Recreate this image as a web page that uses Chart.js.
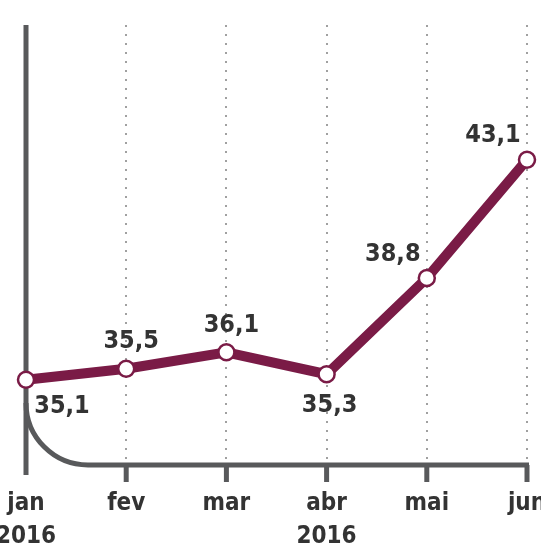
<!DOCTYPE html>
<html>
<head>
<meta charset="utf-8">
<style>
  html, body { margin: 0; padding: 0; background: #fff; }
  #wrap { width: 541px; height: 546px; }
</style>
</head>
<body>
<div id="wrap"><canvas id="chart" width="541" height="546"></canvas></div>
<script src="https://cdn.jsdelivr.net/npm/chart.js"></script>
<script>
const months = ['jan', 'fev', 'mar', 'abr', 'mai', 'jun'];
const years = ['2016', '', '', '2016', '', ''];
const values = [35.1, 35.5, 36.1, 35.3, 38.8, 43.1];
const labelPlace = ['below-right', 'above', 'above', 'below', 'above-left', 'above-left'];

const FONT = '"Liberation Sans Narrow", "DejaVu Sans Condensed", sans-serif';
const LINE = '#7a1b46';
const AXIS = '#58595b';

const axisPlugin = {
  id: 'axisPlugin',
  beforeDatasetsDraw(chart) {
    const { ctx, chartArea } = chart;
    const x = chart.scales.x;
    const left = chartArea.left, bottom = chartArea.bottom, top = chartArea.top;
    const r = 62;
    ctx.save();
    ctx.strokeStyle = AXIS;
    ctx.lineWidth = 5;
    ctx.lineCap = 'butt';
    // vertical axis
    ctx.beginPath();
    ctx.moveTo(left, top);
    ctx.lineTo(left, bottom + 10);
    ctx.stroke();
    // curved corner + baseline
    ctx.beginPath();
    ctx.moveTo(left, bottom - r);
    ctx.arc(left + r, bottom - r, r, Math.PI, Math.PI / 2, true);
    ctx.lineTo(chartArea.right + 2, bottom);
    ctx.stroke();
    // ticks
    months.forEach((m, i) => {
      if (i === 0) return;
      const px = x.getPixelForValue(i);
      ctx.beginPath();
      ctx.moveTo(px, bottom);
      ctx.lineTo(px, bottom + 17);
      ctx.stroke();
    });
    ctx.restore();
  },
  afterDatasetsDraw(chart) {
    const { ctx } = chart;
    const x = chart.scales.x, y = chart.scales.y;
    const offs = {
      'below-right': [36, 27],
      'above': [5, -27],
      'below': [3, 31],
      'above-left': [-34, -24]
    };
    ctx.save();
    ctx.font = 'bold 25px ' + FONT;
    ctx.fillStyle = '#333333';
    ctx.textAlign = 'center';
    ctx.textBaseline = 'middle';
    values.forEach((v, i) => {
      const o = offs[labelPlace[i]];
      const px = x.getPixelForValue(i) + o[0];
      const py = y.getPixelForValue(v) + o[1];
      ctx.fillText(v.toFixed(1).replace('.', ','), px, py);
    });
    ctx.restore();
  }
};

new Chart(document.getElementById('chart'), {
  type: 'line',
  data: {
    labels: months.map((m, i) => years[i] ? [m, years[i]] : m),
    datasets: [{
      data: values,
      borderColor: LINE,
      borderWidth: 10,
      pointRadius: 8,
      pointBorderWidth: 2.5,
      pointBackgroundColor: '#ffffff',
      pointBorderColor: LINE,
      tension: 0,
      clip: false
    }]
  },
  options: {
    responsive: false,
    animation: false,
    layout: { padding: { left: 26, right: 14, top: 25, bottom: 0 } },
    plugins: { legend: { display: false }, tooltip: { enabled: false } },
    scales: {
      x: {
        offset: false,
        border: { display: false, dash: [2, 7] },
        grid: { color: '#a0a0a0', lineWidth: 2, drawTicks: false },
        ticks: {
          color: '#333333',
          padding: 22,
          maxRotation: 0,
          autoSkip: false,
          font: { family: FONT, size: 24, weight: 'bold', lineHeight: 1.37 }
        },
        afterFit(scale) {
          scale.height = 81;
          scale.paddingLeft = 0;
          scale.paddingRight = 0;
        }
      },
      y: { display: false, min: 32, max: 48 }
    }
  },
  plugins: [axisPlugin]
});
</script>
</body>
</html>
